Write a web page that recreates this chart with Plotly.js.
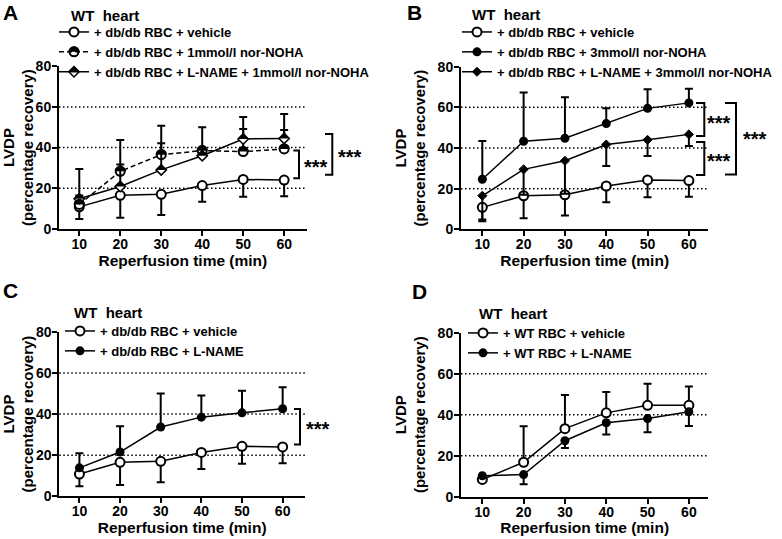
<!DOCTYPE html>
<html><head><meta charset="utf-8">
<script src="https://cdn.plot.ly/plotly-3.0.1.min.js"></script>
<style>html,body{margin:0;padding:0;background:#fff}</style>
</head><body><div id="chart" style="width:782px;height:539px"></div>
<script>
// ---------- data ----------
const times = [10, 20, 30, 40, 50, 60];
const xTickLabels = ['10', '20', '30', '40', '50', '60'];
const yTickVals = [0, 20, 40, 60, 80];
const yTickLabels = ['0', '20', '40', '60', '80'];
const gridVals = [20, 40, 60];

// WT heart + db/db RBC + vehicle (shared control, panels A-C); SD drawn downward
const dbVehicle = [10.8, 16.5, 17.0, 21.3, 24.3, 24.0];
const dbVehicleSD = [6.0, 11.1, 10.2, 8.0, 8.5, 8.0];
// Panel A (SD upward)
const dbNoha1 = [12.0, 28.3, 36.5, 38.5, 38.0, 39.3];
const dbNoha1SD = [17.5, 15.4, 14.2, 11.5, 11.1, 9.3];
const dbLnameNoha1 = [14.8, 20.8, 29.0, 36.0, 44.2, 44.5];
const dbLnameNoha1SD = [1.6, 10.8, 13.1, 3.0, 10.8, 12.0];
// Panel B
const dbNoha3 = [24.6, 43.3, 44.8, 52.0, 59.5, 62.2];
const dbNoha3SD = [18.9, 24.0, 20.2, 7.5, 9.4, 7.0];      // upward
const dbLnameNoha3 = [16.5, 29.5, 33.7, 41.7, 44.0, 46.7];
const dbLnameNoha3SD = [12.5, 12.5, 16.2, 10.5, 7.9, 5.7]; // downward
// Panel C (SD upward)
const dbLname = [13.8, 21.5, 33.7, 38.5, 40.6, 42.6];
const dbLnameSD = [7.1, 12.5, 16.3, 10.5, 10.8, 10.5];
// Panel D
const wtVehicle = [8.4, 16.8, 33.2, 40.9, 44.6, 44.6];
const wtVehicleSD = [1.0, 17.6, 16.4, 10.2, 10.5, 9.2];   // upward
const wtLname = [10.2, 10.8, 27.3, 36.1, 38.1, 41.4];
const wtLnameSD = [1.0, 4.7, 3.5, 5.7, 6.6, 6.9];         // downward

const names = {
  dbVeh: '+ db/db RBC + vehicle',
  noha1: '+ db/db RBC + 1mmol/l nor-NOHA',
  lnNoha1: '+ db/db RBC + L-NAME + 1mmol/l nor-NOHA',
  noha3: '+ db/db RBC + 3mmol/l nor-NOHA',
  lnNoha3: '+ db/db RBC + L-NAME + 3mmol/l nor-NOHA',
  dbLn: '+ db/db RBC + L-NAME',
  wtVeh: '+ WT RBC + vehicle',
  wtLn: '+ WT RBC + L-NAME'
};

// ---------- styles ----------
const FONT = 'Liberation Sans, Arial, sans-serif';
const LEG_FONT = 13;
const zeros = a => a.map(() => 0);
function errUp(sd) { return {type: 'data', symmetric: false, array: sd, arrayminus: zeros(sd), color: '#000', thickness: 2, width: 4}; }
function errDown(sd) { return {type: 'data', symmetric: false, array: zeros(sd), arrayminus: sd, color: '#000', thickness: 2, width: 4}; }

const CIRCLE_R = 5.5, DIAMOND_D = 5.6;
const mOpen = {symbol: 'circle', size: 9, color: '#fff', line: {color: '#000', width: 2}};
const mFilled = {symbol: 'circle', size: 9, color: '#000', line: {color: '#000', width: 0}};
const mDiamond = {symbol: 'diamond', size: 7, color: '#000', line: {color: '#000', width: 1}};
const mHalfDiamond = {symbol: 'diamond', size: 8, color: '#fff', line: {color: '#000', width: 1.5}};
const mLegCircle = {symbol: 'circle', size: 9, color: 'rgba(0,0,0,0)', line: {color: '#000', width: 2}};
const mLegDiamond = {symbol: 'diamond', size: 8, color: 'rgba(0,0,0,0)', line: {color: '#000', width: 1.5}};

function series(ax, y, err, name, marker, legend, rank, dash, showlegend) {
  return {
    type: 'scatter', mode: 'lines+markers', x: times, y: y,
    xaxis: 'x' + ax, yaxis: 'y' + ax, name: name,
    line: {color: '#000', width: 1.5, dash: dash || 'solid'},
    marker: marker, error_y: err, legend: legend, legendrank: rank,
    showlegend: showlegend !== false, cliponaxis: false, hoverinfo: 'skip'
  };
}
function legendOnly(ax, name, marker, legend, rank, dash) {
  return {
    type: 'scatter', mode: 'lines+markers', x: [null], y: [null],
    xaxis: 'x' + ax, yaxis: 'y' + ax, name: name,
    line: {color: '#000', width: 1.5, dash: dash || 'solid'},
    marker: marker, legend: legend, legendrank: rank, hoverinfo: 'skip'
  };
}

const traces = [
  // A
  series('', dbVehicle, errDown(dbVehicleSD), names.dbVeh, mOpen, 'legend', 1),
  series('', dbNoha1, errUp(dbNoha1SD), names.noha1, mOpen, 'legend', 2, '5px,3px', false),
  series('', dbLnameNoha1, errUp(dbLnameNoha1SD), names.lnNoha1, mHalfDiamond, 'legend', 3, 'solid', false),
  legendOnly('', names.noha1, mLegCircle, 'legend', 2, '5px,3px'),
  legendOnly('', names.lnNoha1, mLegDiamond, 'legend', 3),
  // B
  series('2', dbVehicle, errDown(dbVehicleSD), names.dbVeh, mOpen, 'legend2', 1),
  series('2', dbNoha3, errUp(dbNoha3SD), names.noha3, mFilled, 'legend2', 2),
  series('2', dbLnameNoha3, errDown(dbLnameNoha3SD), names.lnNoha3, mDiamond, 'legend2', 3),
  // C
  series('3', dbVehicle, errDown(dbVehicleSD), names.dbVeh, mOpen, 'legend3', 1),
  series('3', dbLname, errUp(dbLnameSD), names.dbLn, mFilled, 'legend3', 2),
  // D
  series('4', wtVehicle, errUp(wtVehicleSD), names.wtVeh, mOpen, 'legend4', 1),
  series('4', wtLname, errDown(wtLnameSD), names.wtLn, mFilled, 'legend4', 2)
];

// ---------- axes ----------
const H = 539, W = 782;
const py = p => (H - p) / H;   // pixel row -> paper y
const px = p => p / W;         // pixel col -> paper x

function xAxis(domain, range, anchor) {
  return {
    domain: domain, range: range, anchor: anchor,
    tickvals: times, ticktext: xTickLabels,
    showline: true, linewidth: 2, linecolor: '#000', mirror: false,
    ticks: 'outside', ticklen: 5, tickwidth: 2, tickcolor: '#000', ticklabelstandoff: -4,
    showgrid: false, zeroline: false,
    tickfont: {family: FONT, size: 14, color: '#000', weight: 700},
    title: {text: 'Reperfusion time (min)', font: {family: FONT, size: 15.5, color: '#000', weight: 700}, standoff: 0},
    fixedrange: true
  };
}
function yAxis(domain, anchor) {
  return {
    domain: domain, range: [0, 80], anchor: anchor,
    tickvals: yTickVals, ticktext: yTickLabels,
    showline: true, linewidth: 2, linecolor: '#000',
    ticks: 'outside', ticklen: 5, tickwidth: 2, tickcolor: '#000', ticklabelstandoff: -2,
    showgrid: false, zeroline: false,
    tickfont: {family: FONT, size: 14, color: '#000', weight: 700},
    title: {text: 'LVDP<br>(percentage recovery)', font: {family: FONT, size: 15, color: '#000', weight: 700}, standoff: 8},
    fixedrange: true
  };
}

const dom = {
  A: {x: [px(59), px(306.7)], y: [py(228.8), py(66.3)]},
  B: {x: [px(461), px(708.3)], y: [py(229.3), py(66.7)]},
  C: {x: [px(59.3), px(305)], y: [py(496.2), py(331.9)]},
  D: {x: [px(461), px(708.3)], y: [py(496.7), py(332.7)]}
};
const xRangeLeft = [5.05, 65.5];
const xRangeRight = [4.84, 64.7];

// ---------- legends (pixel placement) ----------
const legPos = {
  legend: {x: 54, top: 17},
  legend2: {x: 457, top: 17},
  legend3: {x: 60, top: 316},
  legend4: {x: 463, top: 318}
};
const ITEM_H = Math.max(LEG_FONT * 1.3, 16) + 3;  // plotly legend row height
function legendAt(key) {
  return {x: px(legPos[key].x), y: py(legPos[key].top), xanchor: 'left', yanchor: 'top',
    bgcolor: 'rgba(0,0,0,0)', borderwidth: 0, itemwidth: 30, tracegroupgap: 0, traceorder: 'normal',
    font: {family: FONT, size: LEG_FONT, color: '#000', weight: 700}};
}

// ---------- shapes: dotted gridlines, half-filled markers, brackets ----------
const shapes = [];
['', '2', '3', '4'].forEach(ax => {
  gridVals.forEach(v => shapes.push({
    type: 'line', layer: 'below', xref: 'x' + ax + ' domain', yref: 'y' + ax,
    x0: 0, x1: 1, y0: v, y1: v,
    line: {color: '#000', width: 1.5, dash: '1.5px,2.5px'}
  }));
});
function halfCirclePath(r) {
  const pts = [];
  for (let i = 0; i <= 16; i++) {
    const a = Math.PI * i / 16;
    pts.push((r * Math.cos(a)).toFixed(2) + ',' + (r * Math.sin(a)).toFixed(2));
  }
  return 'M' + pts.join('L') + 'Z';
}
function halfDiamondPath(d) { return 'M' + (-d) + ',0L0,' + d + 'L' + d + ',0Z'; }
function halfShape(xref, yref, xa, ya, path, layer) {
  return {type: 'path', layer: layer || 'above', xref: xref, yref: yref, xsizemode: 'pixel', ysizemode: 'pixel',
    xanchor: xa, yanchor: ya, path: path, fillcolor: '#000', line: {width: 0}};
}
times.forEach((t, i) => {
  shapes.push(halfShape('x', 'y', t, dbNoha1[i], halfCirclePath(CIRCLE_R)));
  shapes.push(halfShape('x', 'y', t, dbLnameNoha1[i], halfDiamondPath(DIAMOND_D)));
});
// same half fills under the transparent legend symbols of panel A (rows 2 and 3)
const legSymX = legPos.legend.x + 20;
const rowY = i => legPos.legend.top + 5 + ITEM_H / 2 + i * ITEM_H;
shapes.push(halfShape('paper', 'paper', px(legSymX), py(rowY(1)), halfCirclePath(CIRCLE_R)));
shapes.push(halfShape('paper', 'paper', px(legSymX), py(rowY(2)), halfDiamondPath(DIAMOND_D)));

function bracket(yref, x1p, x2p, yTop, yBot) {
  const a = px(x1p), b = px(x2p);
  shapes.push({type: 'path', xref: 'paper', yref: yref,
    path: 'M' + a + ',' + yTop + 'L' + b + ',' + yTop + 'L' + b + ',' + yBot + 'L' + a + ',' + yBot,
    line: {color: '#000', width: 2}});
}
bracket('y', 293.3, 299, 38.5, 24.9);
bracket('y', 325, 332.3, 46.7, 26.6);
bracket('y2', 696, 704.3, 62.1, 45.9);
bracket('y2', 696, 704.3, 42.9, 26.7);
bracket('y2', 725, 736, 62.1, 27.0);
bracket('y3', 294, 300, 42.5, 25.2);

// ---------- annotations ----------
const annotations = [];
function txt(text, x, y, yref, size, xanchor) {
  annotations.push({text: text, x: x, y: y, xref: 'paper', yref: yref || 'paper',
    xanchor: xanchor || 'left', yanchor: 'middle', showarrow: false,
    font: {family: FONT, size: size, color: '#000', weight: 700}});
}
txt('A', px(1), py(12.5), 'paper', 21);
txt('B', px(405), py(12.5), 'paper', 21);
txt('C', px(1), py(290), 'paper', 21);
txt('D', px(410), py(291), 'paper', 21);
const wt = 'WT\u00a0 heart';
txt(wt, px(69), py(15), 'paper', 15);
txt(wt, px(470), py(14), 'paper', 15);
txt(wt, px(72), py(312), 'paper', 15);
txt(wt, px(477), py(313), 'paper', 15);
const stars = '***';
txt(stars, px(316), 30.2, 'y', 20, 'center');
txt(stars, px(350), 35.4, 'y', 20, 'center');
txt(stars, px(719), 52.1, 'y2', 20, 'center');
txt(stars, px(719), 33.4, 'y2', 20, 'center');
txt(stars, px(755), 44.4, 'y2', 20, 'center');
txt(stars, px(318), 32.6, 'y3', 20, 'center');

const layout = {
  width: W, height: H, margin: {l: 0, r: 0, t: 0, b: 0},
  paper_bgcolor: '#fff', plot_bgcolor: 'rgba(0,0,0,0)',
  font: {family: FONT, color: '#000'},
  xaxis: xAxis(dom.A.x, xRangeLeft, 'y'), yaxis: yAxis(dom.A.y, 'x'),
  xaxis2: xAxis(dom.B.x, xRangeRight, 'y2'), yaxis2: yAxis(dom.B.y, 'x2'),
  xaxis3: xAxis(dom.C.x, xRangeLeft, 'y3'), yaxis3: yAxis(dom.C.y, 'x3'),
  xaxis4: xAxis(dom.D.x, xRangeRight, 'y4'), yaxis4: yAxis(dom.D.y, 'x4'),
  legend: legendAt('legend'), legend2: legendAt('legend2'),
  legend3: legendAt('legend3'), legend4: legendAt('legend4'),
  shapes: shapes, annotations: annotations, hovermode: false
};

Plotly.newPlot('chart', traces, layout, {displayModeBar: false, staticPlot: true});
</script></body></html>
